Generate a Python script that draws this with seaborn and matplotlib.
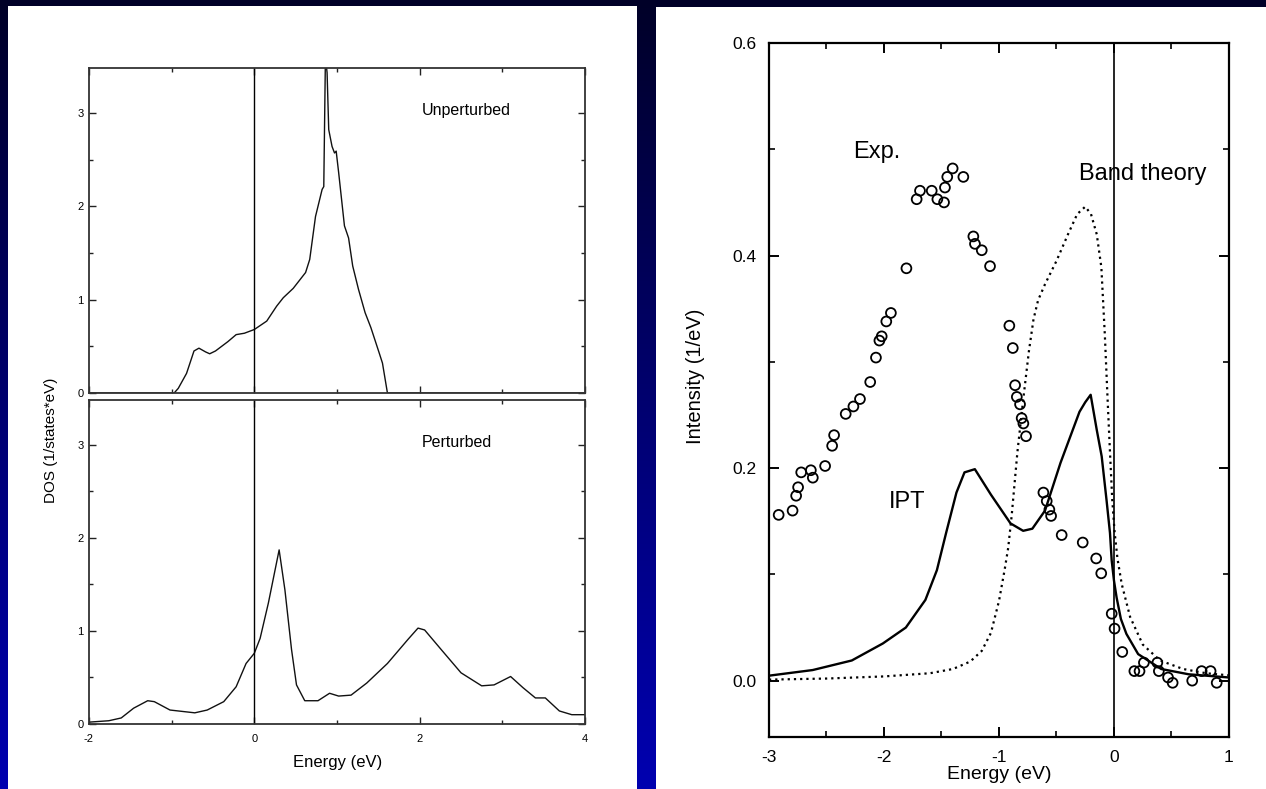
import numpy as np
import matplotlib
matplotlib.use("Agg")
import matplotlib.pyplot as plt
import seaborn as sns
from matplotlib.ticker import MultipleLocator, NullFormatter, FormatStrFormatter
from matplotlib.colors import LinearSegmentedColormap
from matplotlib.patches import Rectangle

# ---------------- data ----------------
unpert_energy = [-2.0, -1.0, -0.97, -0.92, -0.82, -0.73, -0.67, -0.59, -0.54, -0.47, -0.32, -0.22,
                 -0.12, 0.0, 0.15, 0.27, 0.35, 0.47, 0.62, 0.67, 0.74, 0.82, 0.84, 0.86, 0.88, 0.90,
                 0.94, 0.97, 0.99, 1.02, 1.09, 1.14, 1.19, 1.26, 1.34, 1.41, 1.51, 1.55, 1.61, 4.0]
unpert_dos = [0.0, 0.0, 0.0, 0.05, 0.21, 0.45, 0.48, 0.44, 0.42, 0.45, 0.55, 0.625,
              0.64, 0.68, 0.77, 0.93, 1.02, 1.12, 1.29, 1.43, 1.89, 2.18, 2.21, 3.6, 3.43, 2.82,
              2.64, 2.57, 2.59, 2.36, 1.79, 1.66, 1.36, 1.11, 0.86, 0.70, 0.43, 0.32, 0.0, 0.0]

pert_energy = [-2.0, -1.76, -1.61, -1.46, -1.29, -1.21, -1.02, -0.72, -0.57, -0.37, -0.22, -0.10,
               0.0, 0.07, 0.17, 0.30, 0.37, 0.45, 0.51, 0.61, 0.77, 0.91, 1.02, 1.17, 1.36, 1.61,
               1.86, 1.98, 2.06, 2.26, 2.50, 2.75, 2.90, 3.10, 3.25, 3.40, 3.52, 3.69, 3.84, 4.0]
pert_dos = [0.02, 0.035, 0.065, 0.17, 0.25, 0.24, 0.15, 0.12, 0.15, 0.24, 0.40, 0.65,
            0.76, 0.92, 1.30, 1.87, 1.44, 0.80, 0.42, 0.25, 0.25, 0.33, 0.30, 0.31, 0.44, 0.65,
            0.91, 1.03, 1.01, 0.80, 0.55, 0.41, 0.42, 0.51, 0.39, 0.28, 0.28, 0.14, 0.10, 0.10]

exp_energy = [-2.916, -2.795, -2.764, -2.747, -2.72, -2.636, -2.619, -2.512, -2.451, -2.434,
              -2.333, -2.266, -2.209, -2.12, -2.07, -2.04, -2.02, -1.98, -1.94, -1.805,
              -1.716, -1.687, -1.585, -1.536, -1.478, -1.47, -1.45, -1.403, -1.31, -1.223,
              -1.209, -1.15, -1.078, -0.91, -0.88, -0.86, -0.845, -0.817, -0.803, -0.788,
              -0.765, -0.614, -0.585, -0.562, -0.547, -0.455, -0.272, -0.155, -0.111, -0.02,
              0.005, 0.072, 0.177, 0.222, 0.26, 0.377, 0.39, 0.47, 0.51, 0.68, 0.762, 0.84, 0.893]
exp_intensity = [0.156, 0.160, 0.174, 0.182, 0.196, 0.198, 0.191, 0.202, 0.221, 0.231,
                 0.251, 0.258, 0.265, 0.281, 0.304, 0.320, 0.324, 0.338, 0.346, 0.388,
                 0.453, 0.461, 0.461, 0.453, 0.450, 0.464, 0.474, 0.482, 0.474, 0.418,
                 0.411, 0.405, 0.390, 0.334, 0.313, 0.278, 0.267, 0.260, 0.247, 0.242,
                 0.230, 0.177, 0.169, 0.161, 0.155, 0.137, 0.130, 0.115, 0.101, 0.063,
                 0.049, 0.027, 0.009, 0.009, 0.017, 0.017, 0.009, 0.003, -0.002, 0.0, 0.009, 0.009, -0.002]

ipt_energy = [-3.0, -2.62, -2.28, -2.01, -1.81, -1.64, -1.54, -1.46, -1.37, -1.30, -1.21, -1.07,
              -0.90, -0.79, -0.71, -0.60, -0.465, -0.30, -0.25, -0.203, -0.15, -0.107, -0.065,
              -0.035, -0.02, 0.0, 0.023, 0.06, 0.108, 0.21, 0.41, 0.65, 1.0]
ipt_intensity = [0.0047, 0.010, 0.019, 0.035, 0.050, 0.076, 0.104, 0.139, 0.177, 0.196, 0.199, 0.175,
                 0.148, 0.141, 0.143, 0.160, 0.205, 0.253, 0.262, 0.269, 0.236, 0.211, 0.170,
                 0.139, 0.113, 0.094, 0.078, 0.058, 0.044, 0.025, 0.011, 0.006, 0.003]

band_energy = [-3.0, -2.5, -2.0, -1.6, -1.4, -1.25, -1.15, -1.07, -1.0, -0.95, -0.92, -0.89, -0.84,
               -0.79, -0.74, -0.70, -0.66, -0.60, -0.50, -0.40, -0.32, -0.25, -0.20, -0.15, -0.11,
               -0.08, -0.055, -0.035, -0.015, 0.005, 0.03, 0.067, 0.14, 0.25, 0.40, 0.60, 0.80, 1.0]
band_intensity = [0.001, 0.002, 0.004, 0.007, 0.011, 0.018, 0.028, 0.045, 0.075, 0.105, 0.125, 0.155,
                  0.215, 0.264, 0.31, 0.340, 0.358, 0.373, 0.395, 0.420, 0.439, 0.446, 0.439, 0.420,
                  0.389, 0.326, 0.263, 0.215, 0.17, 0.14, 0.115, 0.091, 0.060, 0.034, 0.019, 0.011,
                  0.007, 0.005]

# ---------------- style ----------------
sns.set_theme(style="ticks")
plt.rcParams['font.family'] = ['Liberation Sans', 'DejaVu Sans']
plt.rcParams['axes.unicode_minus'] = False

W, H = 1266, 789
fig = plt.figure(figsize=(W / 100, H / 100), dpi=100)

# background gradient + white panels
bg = fig.add_axes([0, 0, 1, 1], zorder=0)
cmap = LinearSegmentedColormap.from_list(
    "bg", [(0.0, "#000028"), (360 / 789, "#000068"), (1.0, "#0000b0")])
grad = np.linspace(0, 1, 400).reshape(-1, 1)
bg.imshow(grad, aspect="auto", cmap=cmap, extent=[0, 1, 0, 1], origin="upper")
bg.add_patch(Rectangle((8 / W, 0), (637 - 8) / W, 1 - 6 / H, transform=bg.transAxes,
                       facecolor="white", edgecolor="none"))
bg.add_patch(Rectangle((656 / W, 0), (W - 656) / W, 1 - 7 / H, transform=bg.transAxes,
                       facecolor="white", edgecolor="none"))
bg.set_xlim(0, 1)
bg.set_ylim(0, 1)
bg.set_axis_off()


def fa(x0, y0, x1, y1):
    return [x0 / W, 1 - y1 / H, (x1 - x0) / W, (y1 - y0) / H]


# ---------------- left panel ----------------
ax1 = fig.add_axes(fa(89, 68, 585, 393), zorder=2)
ax2 = fig.add_axes(fa(89, 400, 585, 724), zorder=2)

for ax, xe, ye, lab in [(ax1, unpert_energy, unpert_dos, "Unperturbed"),
                        (ax2, pert_energy, pert_dos, "Perturbed")]:
    ax.set_facecolor("white")
    sns.lineplot(x=xe, y=ye, ax=ax, color="#111111", linewidth=1.0, estimator=None, sort=False)
    ax.axvline(0, color="black", linewidth=1.0)
    ax.set_xlim(-2, 4)
    ax.set_ylim(0, 3.48)
    ax.xaxis.set_major_locator(MultipleLocator(2))
    ax.xaxis.set_minor_locator(MultipleLocator(1))
    ax.yaxis.set_major_locator(MultipleLocator(1))
    ax.yaxis.set_minor_locator(MultipleLocator(0.5))
    ax.tick_params(which="both", direction="in", top=True, right=True, colors="#222222",
                   labelsize=8, labelcolor="black")
    ax.tick_params(which="major", length=5, width=1.0)
    ax.tick_params(which="minor", length=3, width=1.0)
    ax.tick_params(axis="y", pad=4)
    ax.tick_params(axis="x", pad=7)
    for s in ax.spines.values():
        s.set_color("#333333")
        s.set_linewidth(1.3)
    ax.text(2.02, 3.02, lab, fontsize=11.5, ha="left", va="center", color="black")
    ax.set_xlabel("")
    ax.set_ylabel("")

ax1.xaxis.set_major_formatter(NullFormatter())
fig.text(51 / W, 1 - 440 / H, "DOS (1/states*eV)", rotation=90, ha="center", va="center",
         fontsize=11, color="black")
fig.text(338 / W, 1 - 763 / H, "Energy (eV)", ha="center", va="center",
         fontsize=12, color="black")

# ---------------- right panel ----------------
ax3 = fig.add_axes(fa(769, 43, 1229, 737), zorder=2)
ax3.set_facecolor("white")
sns.lineplot(x=band_energy, y=band_intensity, ax=ax3, color="black", linewidth=1.6,
             linestyle=(0, (1, 1.8)), estimator=None, sort=False)
sns.lineplot(x=ipt_energy, y=ipt_intensity, ax=ax3, color="black", linewidth=1.7,
             estimator=None, sort=False)
sns.scatterplot(x=exp_energy, y=exp_intensity, ax=ax3, marker="o", s=50,
                facecolor="none", edgecolor="black", linewidth=1.3, zorder=3)
ax3.axvline(0, color="black", linewidth=1.2)
ax3.set_xlim(-3, 1)
ax3.set_ylim(-0.053, 0.6)
ax3.xaxis.set_major_locator(MultipleLocator(1))
ax3.xaxis.set_minor_locator(MultipleLocator(0.5))
ax3.yaxis.set_major_locator(MultipleLocator(0.2))
ax3.yaxis.set_minor_locator(MultipleLocator(0.1))
ax3.yaxis.set_major_formatter(FormatStrFormatter("%.1f"))
ax3.tick_params(which="both", direction="in", top=True, right=True, colors="black",
                labelsize=12.5, pad=9)
ax3.tick_params(which="major", length=7, width=1.4)
ax3.tick_params(which="minor", length=4.5, width=1.2)
for s in ax3.spines.values():
    s.set_color("black")
    s.set_linewidth(1.6)
ax3.set_xlabel("Energy (eV)", fontsize=14, color="black", va="center")
ax3.set_ylabel("Intensity (1/eV)", fontsize=14.5, color="black")
ax3.xaxis.set_label_coords(0.5, -0.054)
ax3.yaxis.set_label_coords(-0.14, 0.52)
ax3.text(-2.27, 0.497, "Exp.", fontsize=17, ha="left", va="center", color="black")
ax3.text(-0.30, 0.477, "Band theory", fontsize=17, ha="left", va="center", color="black")
ax3.text(-1.96, 0.168, "IPT", fontsize=17, ha="left", va="center", color="black")

fig.savefig("out.png", dpi=100)
